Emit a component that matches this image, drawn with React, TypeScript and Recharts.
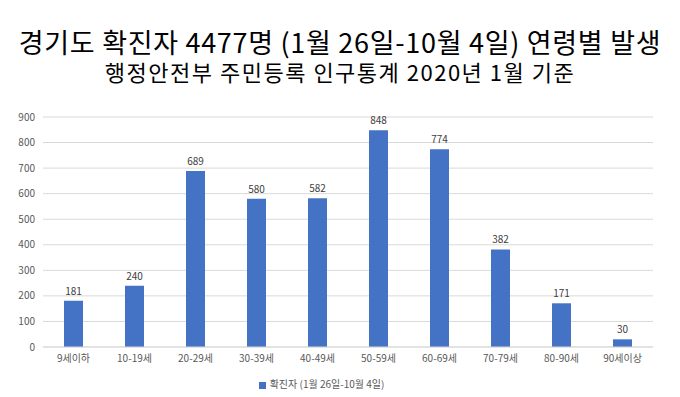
import { BarChart, Bar, XAxis, YAxis, CartesianGrid, Legend, LabelList } from "recharts";

const ageGroups = ["9세이하", "10-19세", "20-29세", "30-39세", "40-49세", "50-59세", "60-69세", "70-79세", "80-90세", "90세이상"];
const cases = [181, 240, 689, 580, 582, 848, 774, 382, 171, 30];
const yTicks = [0, 100, 200, 300, 400, 500, 600, 700, 800, 900];

const seriesName = "확진자 (1월 26일-10월 4일)";
const titleMain = "경기도 확진자 4477명 (1월 26일-10월 4일) 연령별 발생";
const titleSub = "행정안전부 주민등록 인구통계 2020년 1월 기준";

const FONT = "'Noto Sans CJK KR', 'Noto Sans', sans-serif";
const BLUE = "#4472c4";

const data = ageGroups.map((g, i) => ({ name: g, value: cases[i] }));

export default function App() {
  return (
    <div
      style={{
        position: "absolute",
        left: 0,
        top: 0,
        width: 680,
        height: 397,
        background: "#fff",
        fontFamily: FONT,
        overflow: "hidden",
      }}
    >
      <div
        style={{
          position: "absolute",
          top: 28,
          width: 680,
          textAlign: "center",
          color: "#000",
        }}
      >
        <div style={{ fontSize: 27, lineHeight: "27px", letterSpacing: 0.7 }}>{titleMain}</div>
        <div style={{ fontSize: 22, lineHeight: "22px", letterSpacing: 1.5, marginTop: 5 }}>{titleSub}</div>
      </div>
      <BarChart
        width={680}
        height={397}
        data={data}
        margin={{ top: 117, right: 27, left: 0, bottom: 6 }}
        style={{ position: "absolute", left: 0, top: 0 }}
      >
        <CartesianGrid stroke="#d9d9d9" vertical={false} />
        <XAxis
          dataKey="name"
          tick={{ fill: "#595959", fontSize: 10, fontFamily: FONT }}
          tickLine={false}
          axisLine={{ stroke: "#d9d9d9" }}
          height={30}
          interval={0}
        />
        <YAxis
          ticks={yTicks}
          domain={[0, 900]}
          width={43}
          tick={{ fill: "#595959", fontSize: 10, fontFamily: FONT }}
          tickLine={false}
          axisLine={false}
        />
        <Legend
          verticalAlign="bottom"
          iconType="square"
          iconSize={7}
          wrapperStyle={{ fontSize: 10, fontFamily: FONT, color: "#595959", lineHeight: "14px" }}
          formatter={(v) => <span style={{ color: "#595959" }}>{v}</span>}
        />
        <Bar dataKey="value" name={seriesName} fill={BLUE} barSize={19} isAnimationActive={false}>
          <LabelList
            dataKey="value"
            position="top"
            offset={6}
            style={{ fill: "#404040", fontSize: 10, fontFamily: FONT }}
          />
        </Bar>
      </BarChart>
    </div>
  );
}
